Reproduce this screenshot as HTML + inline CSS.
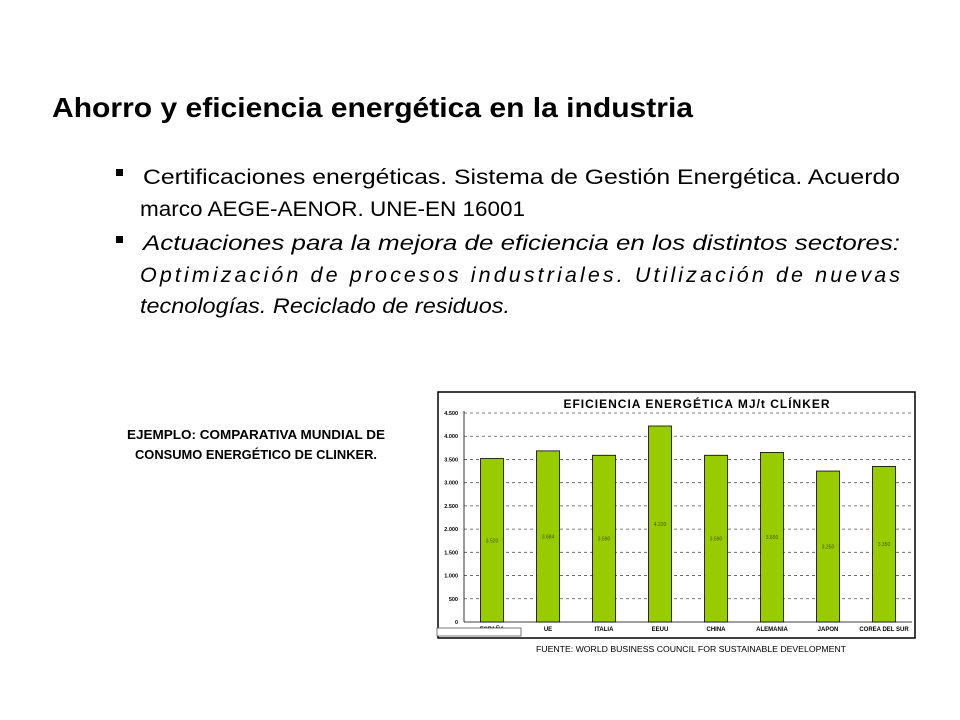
<!DOCTYPE html>
<html><head><meta charset="utf-8"><style>
body{margin:0;background:#fff;width:960px;height:720px;overflow:hidden}
svg{display:block;font-family:"Liberation Sans",sans-serif}
</style></head><body>
<svg width="960" height="720">
<text x="52" y="117" font-size="28" font-weight="bold" textLength="641" lengthAdjust="spacingAndGlyphs">Ahorro y eficiencia energética en la industria</text>
<rect x="116" y="169" width="7" height="7" fill="#000"/>
<g font-size="21.5">
<text x="143" y="184" textLength="757" lengthAdjust="spacingAndGlyphs">Certificaciones energéticas. Sistema de Gestión Energética. Acuerdo</text>
<text x="140" y="216" textLength="385" lengthAdjust="spacingAndGlyphs">marco AEGE-AENOR. UNE-EN 16001</text>
</g>
<rect x="116" y="236" width="7" height="7" fill="#000"/>
<g font-style="italic" font-size="21.5">
<text x="143" y="250" textLength="757" lengthAdjust="spacingAndGlyphs">Actuaciones para la mejora de eficiencia en los distintos sectores:</text>
<text x="140" y="282" textLength="760" lengthAdjust="spacing">Optimización de procesos industriales. Utilización de nuevas</text>
<text x="140" y="313" textLength="370" lengthAdjust="spacingAndGlyphs">tecnologías. Reciclado de residuos.</text>
</g>
<g font-size="12.5" font-weight="bold" text-anchor="middle">
<text x="256" y="439" textLength="258" lengthAdjust="spacingAndGlyphs">EJEMPLO: COMPARATIVA MUNDIAL DE</text>
<text x="256" y="459" textLength="242" lengthAdjust="spacingAndGlyphs">CONSUMO ENERGÉTICO DE CLINKER.</text>
</g>
<rect x="438" y="392" width="477" height="246" fill="#fff" stroke="#000" stroke-width="1.5"/>
<text x="697" y="408" font-size="12" font-weight="bold" text-anchor="middle" letter-spacing="1">EFICIENCIA ENERGÉTICA MJ/t CLÍNKER</text>
<g id="chart"></g>
<rect x="437" y="628" width="84" height="8" fill="#fff" stroke="#555" stroke-width="0.8"/>
<text x="691" y="652" font-size="8" text-anchor="middle" textLength="310" lengthAdjust="spacingAndGlyphs">FUENTE: WORLD BUSINESS COUNCIL FOR SUSTAINABLE DEVELOPMENT</text>
</svg>
<script>
const categories=["ESPAÑA","UE","ITALIA","EEUU","CHINA","ALEMANIA","JAPON","COREA DEL SUR"];
const values=[3520,3684,3590,4220,3590,3650,3250,3350];
const valueLabels=["3.520","3.684","3.590","4.220","3.590","3.650","3.250","3.350"];
const ticks=[0,500,1000,1500,2000,2500,3000,3500,4000,4500];
const tickLabels=["0","500","1.000","1.500","2.000","2.500","3.000","3.500","4.000","4.500"];
const NS="http://www.w3.org/2000/svg";
const g=document.getElementById('chart');
const x0=464,x1=912,y0=622,y1=413,yMax=4500;
const y=v=>y0-(v/yMax)*(y0-y1);
const bw=(x1-x0)/categories.length;
const xc=i=>x0+bw*(i+0.5);
function mk(t,a){const e=document.createElementNS(NS,t);for(const k in a)e.setAttribute(k,a[k]);g.appendChild(e);return e;}
ticks.forEach((t,i)=>{
  if(t>0){const l=mk('line',{x1:x0,x2:x1,y1:y(t),y2:y(t),stroke:'#555','stroke-dasharray':'3,3','stroke-width':0.8});
  
  }
  const tx=mk('text',{x:x0-6,y:y(t)+2,'font-size':5.5,'font-weight':'bold','text-anchor':'end'});
  tx.textContent=tickLabels[i];
  
  
});
const ax=mk('line',{x1:x0,x2:x0,y1:y0,y2:y1-2,stroke:'#000','stroke-width':0.8});


const xa=mk('line',{x1:x0,x2:x1,y1:y0,y2:y0,stroke:'#000','stroke-width':0.8});


categories.forEach((c,i)=>{
  const r=mk('rect',{x:xc(i)-11.5,y:y(values[i]),width:23,height:y0-y(values[i]),fill:'#99cc00',stroke:'#000','stroke-width':0.8});
  
  
  const vl=mk('text',{x:xc(i),y:(y(values[i])+y0)/2+2,'font-size':5,'text-anchor':'middle',fill:'#3d5200'});
  vl.textContent=valueLabels[i];
  
  
  const cl=mk('text',{x:xc(i),y:y0+9,'font-size':6,'font-weight':'bold','text-anchor':'middle'});
  cl.textContent=c;
  
  
});
</script>
</body></html>
